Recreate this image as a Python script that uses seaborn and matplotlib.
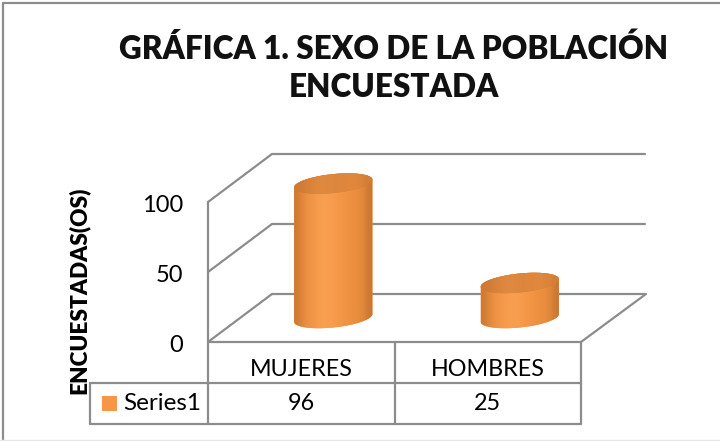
import matplotlib
matplotlib.use('Agg')
import matplotlib.pyplot as plt
from matplotlib.lines import Line2D
from matplotlib.patches import PathPatch, Rectangle
from matplotlib.path import Path
from matplotlib.transforms import Affine2D
import numpy as np
import seaborn as sns

title = 'GRÁFICA 1. SEXO DE LA POBLACIÓN\nENCUESTADA'
ylabel = 'ENCUESTADAS(OS)'
series_name = 'Series1'
categories = ['MUJERES', 'HOMBRES']
values = [96, 25]
yticks = [0, 50, 100]

W, H = 720, 441
GRID = '#8c8c8c'
ORANGE = '#f79646'

sns.set_theme(style='white')
plt.rcParams['font.family'] = ['Lato', 'DejaVu Sans']

fig = plt.figure(figsize=(W / 100, H / 100), dpi=100, facecolor='white')
# front plane of the fake 3d box, in pixels
left, right, top, bottom = 208, 581, 202, 342
ax = fig.add_axes([left / W, 1 - bottom / H, (right - left) / W, (bottom - top) / H])
ax.patch.set_alpha(0)

sns.barplot(x=categories, y=values, color=ORANGE, width=0.42, saturation=1, ax=ax)
ax.set_ylim(0, 100)
ax.set_xlim(-0.5, 1.5)
ax.set_yticks(yticks)
ax.set_yticklabels([str(t) for t in yticks], fontsize=17, color='black')
ax.tick_params(axis='y', length=0, pad=18)
ax.tick_params(axis='x', length=0, pad=12, labelsize=16.8, labelcolor='black')
for lab in ax.get_yticklabels():
    lab.set_transform(lab.get_transform() + Affine2D().translate(0, -2))
sns.despine(ax=ax, left=True, bottom=True)
ax.set_xlabel('')
ax.set_ylabel(ylabel, fontsize=16.3, fontweight='heavy', color='black')
ax.yaxis.set_label_coords((90 - left) / (right - left), (bottom - 290) / (bottom - top))

back = ax.transData + Affine2D().translate(64, 48)
mid = ax.transData + Affine2D().translate(32, 24)

# back wall gridlines and the slanted side lines
for t in yticks:
    ax.plot([-0.5, 1.5], [t, t], color=GRID, lw=1.6, transform=back, clip_on=False, zorder=1)
    p0 = ax.transData.transform((-0.5, t))
    ax.plot([p0[0], p0[0] + 64], [p0[1], p0[1] + 48], color=GRID, lw=1.6,
            transform=None, clip_on=False, zorder=1)
p1 = ax.transData.transform((1.5, 0))
ax.plot([p1[0], p1[0] + 65], [p1[1], p1[1] + 48], color=GRID, lw=1.6,
        transform=None, clip_on=False, zorder=1)

# cylinders built on the seaborn bars, ellipses are sheared a bit to look tilted
shade = [[206, 122, 52], [232, 140, 62], [240, 148, 68], [246, 156, 76], [248, 160, 80],
         [248, 158, 78], [246, 154, 74], [242, 150, 70], [238, 146, 66], [234, 142, 62],
         [226, 136, 58], [200, 118, 50]]
cap_shade = [[206, 122, 52], [218, 132, 60], [224, 138, 66], [220, 134, 62], [222, 134, 60],
             [226, 138, 62], [210, 124, 52]]
body_rgb = np.array(shade)[np.newaxis, :, :] / 255
cap_rgb = np.array(cap_shade)[np.newaxis, :, :] / 255
ry = 9.5 / 1.4
rise = 5.5
th = np.linspace(0, 2 * np.pi, 80)
for bar in ax.patches[:len(values)]:
    x0, w, h = bar.get_x(), bar.get_width(), bar.get_height()
    cx = x0 + w / 2
    bar.set_visible(False)
    ex = w / 2 * np.cos(th)
    ey = ry * np.sin(th) + rise * np.cos(th) / 2
    low = th >= np.pi
    upp = th <= np.pi
    xs = np.r_[cx + ex[low], cx + ex[upp]]
    ys = np.r_[ey[low], h + ey[upp]]
    body = PathPatch(Path(np.c_[xs, ys]), fc=ORANGE, ec='none', transform=mid, clip_on=False, zorder=3)
    ax.add_patch(body)
    im = ax.imshow(body_rgb, extent=(x0, x0 + w, -2 * ry, h + 2 * ry), aspect='auto',
                   interpolation='bicubic', transform=mid, zorder=3.5)
    im.set_clip_box(fig.bbox)
    im.set_clip_path(body)
    cap = PathPatch(Path(np.c_[cx + ex, h + ey]), fc='#d8822f', ec='none', transform=mid,
                    clip_on=False, zorder=4)
    ax.add_patch(cap)
    im2 = ax.imshow(cap_rgb, extent=(x0, x0 + w, h - 2 * ry, h + 2 * ry), aspect='auto',
                    interpolation='bicubic', transform=mid, zorder=4.5)
    im2.set_clip_box(fig.bbox)
    im2.set_clip_path(cap)
ax.set_xlim(-0.5, 1.5)
ax.set_ylim(0, 100)

# data table under the plot, pixel positions via a figure transform
px = Affine2D().scale(1, -1).translate(0, H)
tbl_lines = [
    ([left, right], [342, 342]), ([left, left], [top, 424]), ([right, right], [342, 424]),
    ([395, 395], [342, 424]), ([90, right], [383, 383]), ([90, right], [424, 424]),
    ([90, 90], [383, 424]),
]
for xs, ys in tbl_lines:
    ax.plot(xs, ys, color=GRID, lw=1.6, transform=px, clip_on=False, zorder=2)

ax.add_patch(Rectangle((102, 396), 15, 15, fc=ORANGE, ec='none', transform=px, clip_on=False))
ax.text(123, 404, series_name, fontsize=17.5, va='center', ha='left', color='black',
        transform=px, clip_on=False)
for i, v in enumerate(values):
    px_x = ax.transData.transform((i, 0))[0]
    ax.text(px_x, 404, str(v), fontsize=16.8, va='center', ha='center', color='black',
            transform=px, clip_on=False)

fig.text(394 / W, 1 - 68 / H, title, fontsize=22.7, fontweight='heavy', ha='center', va='center',
         color='#111111', linespacing=1.36)

# outer chart border, the lower and right edges are pale in the source
fig.add_artist(Line2D([3 / W, 3 / W], [0, 1 - 3 / H], color=GRID, lw=1.6, transform=fig.transFigure))
fig.add_artist(Line2D([3 / W, 1], [1 - 3 / H, 1 - 3 / H], color=GRID, lw=1.6, transform=fig.transFigure))
fig.add_artist(Line2D([0, 1], [1 / H, 1 / H], color='#e6e6e6', lw=1.0, transform=fig.transFigure))

fig.savefig('out.png', dpi=100, facecolor='white')
